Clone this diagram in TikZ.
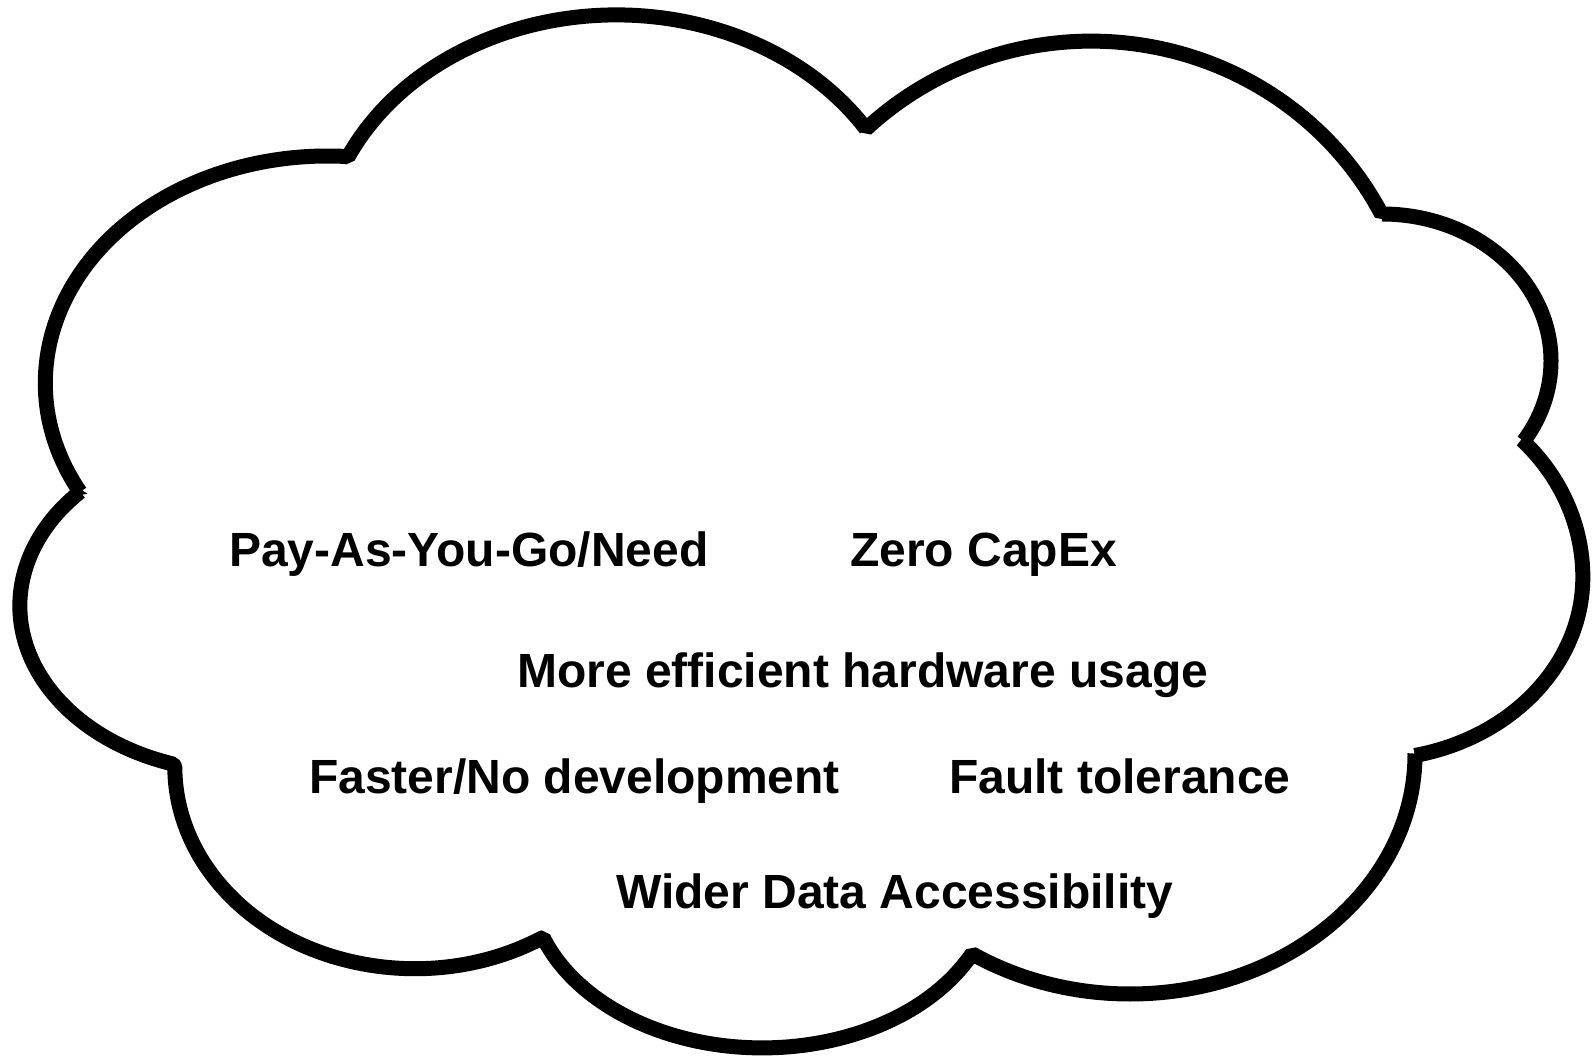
\documentclass[tikz,border=0pt]{standalone}
\usepackage{fontspec}
\setmainfont{Liberation Sans}

\tikzset{
  benefit/.style={anchor=base west, inner sep=0pt, font=\fontsize{48}{57}\selectfont\bfseries},
  cloudline/.style={line width=15pt, line join=bevel}
}

\begin{document}
\begin{tikzpicture}[x=1pt,y=1pt]
  \useasboundingbox (0,0) rectangle (1593,1061);

  % cusps between the lobes
  \coordinate (cA) at (348,904);
  \coordinate (cB) at (866,932);
  \coordinate (cC) at (1382,847);
  \coordinate (cD) at (1522,621);
  \coordinate (cE) at (1415,307);
  \coordinate (cF) at (969,103);
  \coordinate (cG) at (542,123);
  \coordinate (cH) at (173,297);
  \coordinate (cL) at (80,569);

  % the cloud, one arc per lobe
  \draw[cloudline] (cL) arc[start angle=208.7, end angle=86.3, x radius=282, y radius=227]
    -- (cA) arc[start angle=155, end angle=32.5, x radius=296, y radius=246]
    -- (cB) arc[start angle=133.5, end angle=27.3, x radius=327, y radius=320]
    -- (cC) arc[start angle=90, end angle=-33, x radius=169, y radius=147]
    -- (cD) arc[start angle=44.4, end angle=0, x radius=213, y radius=196]
             arc[start angle=0, end angle=-77.8, x radius=213, y radius=182.5]
    -- (cE) arc[start angle=0, end angle=-123.6, x radius=285, y radius=240]
    -- (cF) arc[start angle=-27.5, end angle=-160.1, x radius=233, y radius=167]
    -- (cG) arc[start angle=-58, end angle=-180, x radius=240, y radius=202]
    -- (cH) arc[start angle=252.3, end angle=136.6, x radius=220, y radius=166]
    -- cycle;

  \node[benefit] (payg) at (229,494) {Pay-As-You-Go/Need};
  \node[benefit] (capex) at (850,494) {Zero CapEx};
  \node[benefit] (hw) at (517,373) {More efficient hardware usage};
  \node[benefit] (dev) at (309,267) {Faster/No development};
  \node[benefit] (fault) at (949,267) {Fault tolerance};
  \node[benefit] (data) at (616,153) {Wider Data Accessibility};
\end{tikzpicture}
\end{document}
